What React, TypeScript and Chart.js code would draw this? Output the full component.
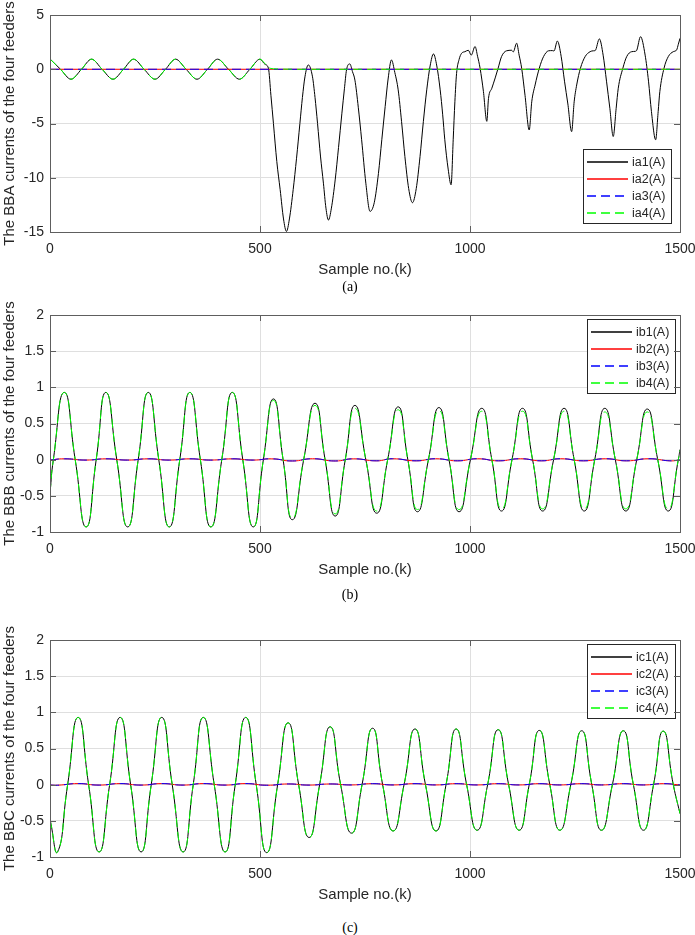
import { useEffect, useRef } from "react";
import { Chart, registerables } from "chart.js";

Chart.register(...registerables);

type Pt = [number, number];

// ---- axes ----
const sampleTicks = [0, 500, 1000, 1500];
const ticksA = [-15, -10, -5, 0, 5];
const ticksBC = [-1, -0.5, 0, 0.5, 1, 1.5, 2];

// ---- (a) BBA feeder currents: [sample, amps] ----
const ia1: Pt[] = [
  [0, 0.95], [25, 0], [50, -0.92], [75, 0], [99, 0.93], [124, 0], [150, -0.92], [175, 0],
  [199, 0.93], [224, 0], [250, -0.92], [275, 0], [299, 0.93], [324, 0], [350, -0.92], [375, 0],
  [399, 0.93], [425, 0], [451, -0.92], [476, 0], [500, 0.93], [512, 0.45], [520, 0.1],
  [526, -2.4], [532, -5], [540, -8.5], [548, -11.1], [556, -13.8], [563, -14.95], [570, -13.8],
  [579, -11.1], [587, -8.2], [595, -5], [601, -2.6], [607, -0.7], [615, 0.4],
  [625, -0.7], [631, -2.6], [637, -5], [644, -8], [651, -10.5], [657, -12.8], [663, -13.9],
  [670, -12.8], [679, -10.2], [687, -7.2], [695, -4.05], [701, -1.8], [706, -0.06], [714, 0.49],
  [720, -0.2], [726, -1], [734, -3.5], [742, -6.5], [752, -10.5], [762, -13.1], [772, -12.3],
  [782, -9.6], [790, -6.5], [798, -3.44], [805, -0.9], [813, 0.86],
  [821, -0.3], [829, -1.9], [837, -4.8], [845, -8.05], [854, -11], [863, -12.3], [872, -11],
  [881, -8.05], [889, -4.8], [897, -1.9], [905, 0.3], [913, 1.41],
  [921, 0.3], [929, -1.9], [935, -4.2], [940, -6.5], [948, -9.2], [955, -10.65], [960, -6.5],
  [964, -3], [968, -0.4], [974, 0.9], [980, 1.47], [988, 1.62], [996, 1.75], [1003, 1.3], [1012, 2.1],
  [1018, 1.2], [1024, 0.1], [1032, -2.06], [1040, -4.8], [1044, -2.7], [1052, -1.75], [1060, -0.8],
  [1067, 0.1], [1075, 1.16], [1087, 1.7], [1099, 1.75], [1103, 1.6], [1111, 2.4],
  [1117, 1.3], [1123, 0.1], [1131, -2.4], [1141, -5.6], [1147, -3], [1155, -1.45], [1165, 0.1],
  [1175, 1.16], [1187, 1.7], [1196, 1.72], [1200, 1.68], [1208, 2.6],
  [1217, 1.2], [1225, -1.1], [1233, -3.2], [1242, -5.75], [1248, -3], [1254, -1.45], [1263, 0.1],
  [1274, 1.16], [1286, 1.62], [1294, 1.7], [1298, 1.72], [1308, 2.8],
  [1317, 1.3], [1325, -1.1], [1333, -3.6], [1341, -6.2], [1348, -3.6], [1353, -1.75], [1364, 0.1],
  [1373, 1.16], [1385, 1.62], [1393, 1.65], [1397, 1.75], [1406, 3.0],
  [1417, 1.3], [1425, -1.1], [1432, -3.9], [1442, -6.5], [1448, -3.9], [1452, -2.06], [1462, 0.1],
  [1472, 1.16], [1484, 1.62], [1492, 1.78], [1496, 2.3], [1500, 2.85],
];
const ia2: Pt[] = [[0, 0], [1500, 0]];
const ia3: Pt[] = [[0, 0], [1500, 0]];
const ia4: Pt[] = [
  [0, 0.95], [25, 0], [50, -0.92], [75, 0], [99, 0.93], [124, 0], [150, -0.92], [175, 0],
  [199, 0.93], [224, 0], [250, -0.92], [275, 0], [299, 0.93], [324, 0], [350, -0.92], [375, 0],
  [399, 0.93], [425, 0], [451, -0.92], [476, 0], [500, 0.93], [510, 0.6], [516, 0.35],
  [524, 0.09], [540, 0.03], [570, 0.01], [600, 0], [1500, 0],
];

// ---- (b) BBB feeder currents ----
const ib1: Pt[] = [
  [0, -0.46], [8, 0], [34, 0.93], [60, 0], [86, -0.93], [110, 0], [133, 0.93], [159, 0],
  [185, -0.93], [210, 0], [234, 0.93], [259, 0], [284, -0.93], [309, 0], [333, 0.93], [358, 0],
  [383, -0.93], [409, 0], [434, 0.93], [459, 0], [484, -0.93], [508, 0], [532, 0.84], [555, 0],
  [577, -0.83], [604, 0], [631, 0.78], [655, 0], [679, -0.78], [703, 0], [726, 0.75], [752, 0],
  [778, -0.74], [804, 0], [829, 0.73], [852, 0], [875, -0.72], [901, 0], [926, 0.72], [950, 0],
  [974, -0.72], [1001, 0], [1028, 0.71], [1052, 0], [1075, -0.71], [1100, 0], [1125, 0.71],
  [1149, 0], [1173, -0.71], [1199, 0], [1224, 0.71], [1248, 0], [1272, -0.71], [1297, 0],
  [1321, 0.71], [1346, 0], [1371, -0.71], [1397, 0], [1422, 0.7], [1447, 0], [1472, -0.71],
  [1496, 0], [1500, 0.14],
];
const ib4: Pt[] = [
  [0, -0.46], [8, 0], [34, 0.93], [60, 0], [86, -0.93], [110, 0], [133, 0.93], [159, 0],
  [185, -0.93], [210, 0], [234, 0.93], [259, 0], [284, -0.93], [309, 0], [333, 0.93], [358, 0],
  [383, -0.93], [409, 0], [434, 0.93], [459, 0], [484, -0.93], [508, 0], [532, 0.82], [555, 0],
  [577, -0.81], [604, 0], [631, 0.75], [655, 0], [679, -0.75], [703, 0], [726, 0.71], [752, 0],
  [778, -0.71], [804, 0], [829, 0.69], [852, 0], [875, -0.69], [901, 0], [926, 0.68], [950, 0],
  [974, -0.69], [1001, 0], [1028, 0.67], [1052, 0], [1075, -0.68], [1100, 0], [1125, 0.67],
  [1149, 0], [1173, -0.68], [1199, 0], [1224, 0.67], [1248, 0], [1272, -0.68], [1297, 0],
  [1321, 0.66], [1346, 0], [1371, -0.68], [1397, 0], [1422, 0.66], [1447, 0], [1472, -0.68],
  [1496, 0], [1500, 0.13],
];
const ib2: Pt[] = [
  [0, -0.005], [34, 0.012], [86, -0.006], [133, 0.012], [185, -0.006], [234, 0.012], [284, -0.006],
  [333, 0.012], [383, -0.006], [434, 0.012], [484, -0.006], [528, 0.012], [577, -0.018], [625, 0.013],
  [679, -0.018], [722, 0.012], [778, -0.016], [815, 0.013], [872, -0.016], [918, 0.013], [970, -0.016],
  [1018, 0.013], [1068, -0.016], [1120, 0.013], [1170, -0.016], [1216, 0.013], [1270, -0.016],
  [1322, 0.013], [1373, -0.016], [1426, 0.013], [1476, -0.016], [1500, -0.005],
];
const ib3: Pt[] = ib2;

// ---- (c) BBC feeder currents ----
const ic1: Pt[] = [
  [0, -0.48], [18, -0.93], [42, 0], [67, 0.93], [92, 0], [117, -0.93], [142, 0], [167, 0.93],
  [192, 0], [217, -0.93], [241, 0], [266, 0.93], [291, 0], [317, -0.93], [341, 0], [365, 0.93],
  [391, 0], [417, -0.93], [441, 0], [466, 0.93], [491, 0], [516, -0.94], [542, 0], [567, 0.855],
  [592, 0], [617, -0.73], [642, 0], [667, 0.8], [692, 0], [718, -0.67], [743, 0], [768, 0.78],
  [792, 0], [817, -0.64], [843, 0], [869, 0.77], [894, 0], [919, -0.64], [943, 0], [967, 0.77],
  [992, 0], [1017, -0.63], [1042, 0], [1067, 0.76], [1092, 0], [1117, -0.63], [1141, 0],
  [1165, 0.75], [1190, 0], [1214, -0.63], [1240, 0], [1266, 0.745], [1290, 0], [1313, -0.63],
  [1339, 0], [1365, 0.745], [1389, 0], [1413, -0.63], [1437, 0], [1460, 0.74], [1484, 0],
  [1500, -0.4],
];
const ic4: Pt[] = ic1;
const ic2: Pt[] = [
  [0, -0.005], [18, -0.008], [67, 0.015], [117, -0.006], [167, 0.015], [217, -0.006], [266, 0.015],
  [317, -0.006], [365, 0.015], [417, -0.006], [466, 0.015], [516, -0.008], [567, 0.01], [617, -0.006],
  [667, 0.01], [718, -0.004], [768, 0.014], [817, -0.004], [869, 0.014], [919, -0.004], [967, 0.014],
  [1017, -0.004], [1067, 0.014], [1117, -0.004], [1165, 0.014], [1214, -0.004], [1266, 0.014],
  [1313, -0.004], [1365, 0.014], [1413, -0.004], [1460, 0.014], [1500, -0.004],
];
const ic3: Pt[] = ic2;

// ---- styling ----
const SANS = "'Liberation Sans', Arial, Helvetica, sans-serif";
const SERIF = "'Liberation Serif', 'Times New Roman', serif";
const INK = "#262626";
const GRID = "#dfdfdf";
const FRAME = "#5e5e5e";
const DASH = [9, 5];

type Series = { label: string; data: Pt[]; color: string; dashed: boolean; monotone: boolean };

type LegendPlace = { corner: "ne" | "se"; dx: number; dy: number };

// Box, inward tick marks on all four sides, and the boxed legend inside the plot.
const framePlugin = {
  id: "frame",
  afterDraw(chart: any, _args: any, opts: LegendPlace) {
    const { ctx, chartArea } = chart;
    const { left, top, right, bottom } = chartArea;
    const xs = chart.scales.x;
    const ys = chart.scales.y;
    const al = (v: number) => Math.round(v) + 0.5;
    ctx.save();

    // legend
    const W = 88;
    const H = 74;
    const bx = Math.round(right - opts.dx - W);
    const by = opts.corner === "ne" ? Math.round(top + opts.dy) : Math.round(bottom - opts.dy - H);
    ctx.fillStyle = "#ffffff";
    ctx.fillRect(bx, by, W, H);
    ctx.font = `12.5px ${SANS}`;
    ctx.textBaseline = "middle";
    ctx.textAlign = "left";
    chart.data.datasets.forEach((ds: any, i: number) => {
      const y = by + 13 + i * 17;
      ctx.lineWidth = 1.4;
      ctx.strokeStyle = ds.borderColor;
      ctx.setLineDash(ds.borderDash || []);
      ctx.beginPath();
      ctx.moveTo(bx + 4, y);
      ctx.lineTo(bx + 45, y);
      ctx.stroke();
      ctx.setLineDash([]);
      ctx.fillStyle = INK;
      ctx.fillText(ds.label, bx + 49, y + 0.5);
    });
    ctx.lineWidth = 1;
    ctx.strokeStyle = INK;
    ctx.strokeRect(bx + 0.5, by + 0.5, W, H);

    // ticks and frame
    const tl = 6;
    ctx.strokeStyle = FRAME;
    ctx.beginPath();
    for (const t of xs.ticks) {
      const px = al(xs.getPixelForValue(t.value));
      ctx.moveTo(px, bottom);
      ctx.lineTo(px, bottom - tl);
      ctx.moveTo(px, top);
      ctx.lineTo(px, top + tl);
    }
    for (const t of ys.ticks) {
      const py = al(ys.getPixelForValue(t.value));
      ctx.moveTo(left, py);
      ctx.lineTo(left + tl, py);
      ctx.moveTo(right, py);
      ctx.lineTo(right - tl, py);
    }
    ctx.stroke();
    ctx.strokeRect(al(left), al(top), Math.round(right - left), Math.round(bottom - top));
    ctx.restore();
  },
};

type PanelProps = {
  top: number;
  yTitle: string;
  yMin: number;
  yMax: number;
  yTicks: number[];
  series: Series[];
  legend: LegendPlace;
};

function Panel({ top, yTitle, yMin, yMax, yTicks, series, legend }: PanelProps) {
  const ref = useRef<HTMLCanvasElement>(null);

  useEffect(() => {
    const canvas = ref.current;
    if (!canvas) return;
    const n = series.length;
    const chart = new Chart(canvas, {
      type: "line",
      data: {
        datasets: series.map((s, i) => ({
          label: s.label,
          data: s.data.map(([x, y]) => ({ x, y })),
          borderColor: s.color,
          backgroundColor: s.color,
          borderWidth: 1,
          borderDash: s.dashed ? DASH : [],
          pointRadius: 0,
          fill: false,
          tension: s.monotone ? 0 : 0.55,
          cubicInterpolationMode: s.monotone ? "monotone" : "default",
          order: n - 1 - i,
        })),
      },
      options: {
        responsive: false,
        animation: false,
        events: [],
        layout: { padding: { left: 0, top: 15, right: 15, bottom: 0 } },
        plugins: {
          legend: { display: false },
          tooltip: { enabled: false },
          frame: legend,
        } as any,
        scales: {
          x: {
            type: "linear",
            min: 0,
            max: 1500,
            afterBuildTicks: (s: any) => {
              s.ticks = sampleTicks.map((v) => ({ value: v }));
            },
            afterFit: (s: any) => {
              s.height = 48;
              s.paddingLeft = 0;
              s.paddingRight = 0;
              s.paddingTop = 0;
              s.paddingBottom = 0;
            },
            ticks: {
              padding: 9,
              maxRotation: 0,
              autoSkip: false,
              color: INK,
              font: { family: SANS, size: 14 },
              callback: (v: any) => String(v),
            },
            grid: { drawTicks: false, color: GRID, lineWidth: 1 },
            border: { display: false },
            title: {
              display: true,
              text: "Sample no.(k)",
              color: INK,
              font: { family: SANS, size: 15 },
              padding: { top: 0, bottom: 1.5 },
            },
          },
          y: {
            type: "linear",
            min: yMin,
            max: yMax,
            afterBuildTicks: (s: any) => {
              s.ticks = yTicks.map((v) => ({ value: v }));
            },
            afterFit: (s: any) => {
              s.width = 50;
              s.paddingLeft = 0;
              s.paddingRight = 0;
              s.paddingTop = 0;
              s.paddingBottom = 0;
            },
            ticks: {
              padding: 6,
              autoSkip: false,
              color: INK,
              font: { family: SANS, size: 14 },
              callback: (v: any) => String(v),
            },
            grid: { drawTicks: false, color: GRID, lineWidth: 1 },
            border: { display: false },
            title: {
              display: true,
              text: yTitle,
              color: INK,
              font: { family: SANS, size: 15 },
              padding: { top: 1, bottom: 0 },
            },
          },
        },
      },
      plugins: [framePlugin as any],
    });
    return () => chart.destroy();
  }, [yTitle, yMin, yMax, yTicks, series, legend]);

  return (
    <canvas
      ref={ref}
      width={695}
      height={280}
      style={{ position: "absolute", left: 0, top, width: 695, height: 280, display: "block" }}
    />
  );
}

const seriesA: Series[] = [
  { label: "ia1(A)", data: ia1, color: "#000000", dashed: false, monotone: true },
  { label: "ia2(A)", data: ia2, color: "#ff0000", dashed: false, monotone: true },
  { label: "ia3(A)", data: ia3, color: "#0000ff", dashed: true, monotone: true },
  { label: "ia4(A)", data: ia4, color: "#00ff00", dashed: true, monotone: true },
];
const seriesB: Series[] = [
  { label: "ib1(A)", data: ib1, color: "#000000", dashed: false, monotone: false },
  { label: "ib2(A)", data: ib2, color: "#ff0000", dashed: false, monotone: false },
  { label: "ib3(A)", data: ib3, color: "#0000ff", dashed: true, monotone: false },
  { label: "ib4(A)", data: ib4, color: "#00ff00", dashed: true, monotone: false },
];
const seriesC: Series[] = [
  { label: "ic1(A)", data: ic1, color: "#000000", dashed: false, monotone: false },
  { label: "ic2(A)", data: ic2, color: "#ff0000", dashed: false, monotone: false },
  { label: "ic3(A)", data: ic3, color: "#0000ff", dashed: true, monotone: false },
  { label: "ic4(A)", data: ic4, color: "#00ff00", dashed: true, monotone: false },
];

const legendA: LegendPlace = { corner: "se", dx: 9, dy: 9 };
const legendB: LegendPlace = { corner: "ne", dx: 5, dy: 4 };
const legendC: LegendPlace = { corner: "ne", dx: 5, dy: 4 };

function Caption({ text, centerY }: { text: string; centerY: number }) {
  return (
    <div
      style={{
        position: "absolute",
        left: 0,
        width: 700,
        top: centerY - 8,
        height: 16,
        lineHeight: "16px",
        textAlign: "center",
        fontFamily: SERIF,
        fontSize: 14,
        color: "#000",
      }}
    >
      {text}
    </div>
  );
}

export default function App() {
  return (
    <div
      style={{
        position: "absolute",
        left: 0,
        top: 0,
        width: 695,
        height: 935,
        background: "#ffffff",
        overflow: "hidden",
      }}
    >
      <Panel
        top={0}
        yTitle="The BBA currents of the four feeders"
        yMin={-15}
        yMax={5}
        yTicks={ticksA}
        series={seriesA}
        legend={legendA}
      />
      <Caption text="(a)" centerY={287} />
      <Panel
        top={300}
        yTitle="The BBB currents of the four feeders"
        yMin={-1}
        yMax={2}
        yTicks={ticksBC}
        series={seriesB}
        legend={legendB}
      />
      <Caption text="(b)" centerY={595} />
      <Panel
        top={625}
        yTitle="The BBC currents of the four feeders"
        yMin={-1}
        yMax={2}
        yTicks={ticksBC}
        series={seriesC}
        legend={legendC}
      />
      <Caption text="(c)" centerY={928} />
    </div>
  );
}
